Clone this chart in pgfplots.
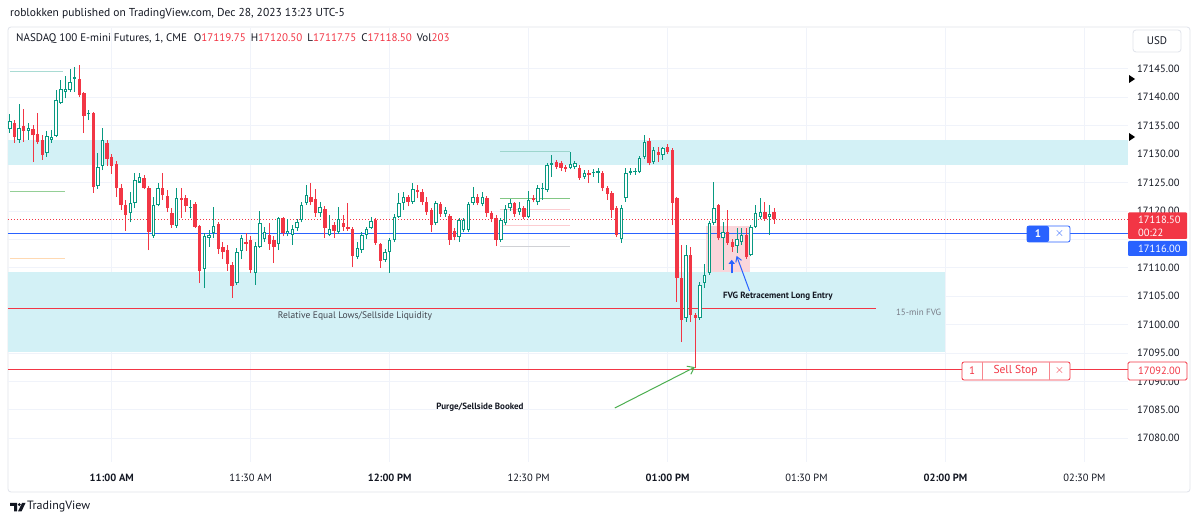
\documentclass[border=0pt]{standalone}
\usepackage{pgfplots}
\pgfplotsset{compat=1.18}
\usepackage{pgfplotstable}
\usepackage{fontspec}
\setmainfont{PT Sans}
\usetikzlibrary{arrows.meta}
\definecolor{tvgreen}{HTML}{089981}
\definecolor{tvred}{HTML}{F23645}
\definecolor{tvblue}{HTML}{2962FF}
\definecolor{bandc}{HTML}{D3F1F6}
\definecolor{pinkc}{HTML}{FAD6DB}
\definecolor{gridc}{HTML}{F0F3FA}
\definecolor{txt}{HTML}{131722}
\definecolor{gtxt}{HTML}{787B86}
\definecolor{borderc}{HTML}{E0E3EB}
\definecolor{arrowgreen}{HTML}{4CAF50}

\pgfplotstableread{
t o h l c
-22 17134.5 17137.0 17133.8 17135.8
-20 17132.5 17138.8 17132.0 17134.6
-18 17134.1 17135.5 17132.5 17134.6
-14 17130.2 17134.0 17129.5 17133.2
-13 17132.5 17134.3 17132.0 17133.0
-12 17133.2 17141.3 17133.0 17139.5
-11 17139.0 17143.1 17138.8 17141.5
-10 17141.0 17143.7 17139.8 17141.5
-9 17141.3 17145.0 17141.0 17142.7
-8 17143.2 17145.4 17141.0 17143.5
-5 17137.0 17137.8 17136.0 17137.3
-3 17124.4 17130.2 17123.9 17127.7
-2 17127.9 17134.6 17127.2 17132.5
4 17119.6 17123.3 17118.0 17121.4
5 17121.4 17126.7 17120.5 17125.5
6 17125.0 17126.7 17124.9 17126.0
9 17115.6 17122.5 17115.3 17121.0
10 17121.0 17125.0 17120.8 17124.0
14 17117.4 17124.0 17117.0 17122.3
17 17120.5 17121.9 17118.8 17120.7
20 17109.8 17116.1 17106.4 17115.6
21 17115.2 17116.7 17113.7 17115.8
22 17116.1 17120.7 17115.2 17117.4
27 17107.3 17113.5 17107.0 17112.8
28 17113.0 17115.7 17111.5 17115.2
31 17109.1 17114.5 17107.0 17113.8
32 17113.7 17120.0 17113.5 17117.9
33 17115.0 17117.2 17114.5 17116.3
36 17114.1 17118.9 17113.1 17118.8
38 17116.1 17118.6 17115.5 17116.5
39 17115.8 17117.5 17114.0 17116.8
40 17117.0 17118.5 17116.5 17118.1
41 17118.4 17121.5 17118.0 17121.0
42 17121.4 17124.6 17121.0 17122.8
45 17119.6 17121.5 17119.0 17120.7
47 17115.8 17119.3 17115.5 17116.8
49 17116.3 17120.7 17116.0 17118.6
53 17111.9 17114.5 17111.5 17113.5
54 17113.1 17116.3 17112.6 17115.8
55 17115.8 17117.2 17115.0 17116.8
56 17117.0 17118.9 17116.8 17118.2
59 17111.4 17113.3 17111.0 17112.8
60 17112.8 17115.2 17109.1 17114.9
61 17114.9 17119.5 17114.5 17119.0
62 17119.0 17123.2 17118.8 17121.4
63 17121.4 17123.3 17120.2 17122.5
65 17121.6 17124.9 17121.3 17123.9
70 17117.9 17121.8 17117.5 17121.4
72 17119.5 17120.7 17119.0 17120.2
75 17115.4 17118.8 17114.5 17118.4
76 17116.7 17118.8 17116.3 17118.4
77 17116.7 17121.5 17116.3 17121.2
78 17121.4 17124.2 17121.0 17122.5
80 17121.2 17123.3 17120.8 17122.5
84 17114.9 17118.8 17114.5 17118.4
85 17117.9 17121.0 17117.5 17120.4
86 17120.5 17122.1 17120.0 17121.4
88 17119.8 17121.5 17119.3 17120.5
90 17119.0 17123.5 17118.8 17121.9
92 17121.6 17124.5 17121.0 17124.0
93 17123.8 17125.0 17122.0 17124.0
94 17123.7 17128.5 17123.3 17128.1
95 17128.1 17129.9 17126.0 17128.4
99 17127.6 17130.4 17127.3 17128.3
100 17127.7 17128.8 17127.3 17128.4
102 17126.0 17127.2 17125.7 17126.7
104 17126.6 17127.3 17126.0 17126.9
105 17126.7 17127.5 17125.0 17127.0
110 17115.0 17121.0 17114.4 17120.5
111 17122.3 17127.6 17121.6 17126.7
112 17126.7 17127.6 17126.3 17127.0
113 17126.8 17127.6 17126.4 17127.1
114 17126.9 17129.6 17126.6 17129.3
115 17129.5 17133.4 17129.2 17132.2
117 17128.6 17131.2 17128.2 17130.7
119 17129.9 17131.3 17129.0 17131.1
124 17101.2 17114.0 17100.5 17112.3
127 17101.2 17107.5 17100.8 17107.0
128 17107.3 17110.6 17106.5 17108.7
129 17109.1 17118.3 17108.8 17117.9
130 17117.9 17125.1 17117.5 17120.5
132 17115.2 17118.0 17109.6 17116.3
135 17113.8 17117.0 17112.6 17115.1
136 17114.5 17117.0 17114.0 17115.8
138 17112.3 17117.6 17112.0 17117.2
139 17117.2 17121.0 17117.0 17119.6
140 17118.9 17122.3 17118.5 17119.8
142 17118.9 17121.0 17115.8 17119.5
}\greentab

\pgfplotstableread{
t o h l c
-21 17135.5 17136.0 17132.0 17133.0
-19 17135.0 17138.0 17132.2 17134.1
-17 17134.4 17135.1 17128.6 17133.3
-16 17133.6 17137.3 17131.8 17132.2
-15 17132.5 17133.4 17129.0 17129.9
-7 17143.3 17145.6 17140.0 17140.4
-6 17140.8 17141.0 17133.7 17136.7
-4 17137.3 17137.5 17123.2 17124.2
-1 17132.0 17132.5 17127.9 17129.2
0 17129.5 17130.0 17126.5 17127.9
1 17128.3 17128.8 17122.5 17124.0
2 17124.0 17124.8 17120.2 17121.0
3 17121.0 17122.0 17116.5 17119.3
7 17125.8 17126.3 17123.8 17124.0
8 17124.0 17124.3 17113.1 17116.3
11 17124.0 17126.7 17122.0 17122.8
12 17122.6 17123.7 17119.8 17120.5
13 17119.6 17120.5 17117.0 17117.5
15 17122.3 17124.0 17118.8 17121.9
16 17122.3 17122.8 17119.8 17120.9
18 17121.2 17121.5 17117.0 17117.2
19 17117.4 17117.6 17107.3 17109.4
23 17117.7 17118.0 17112.5 17113.3
24 17113.7 17114.5 17111.5 17112.8
25 17113.1 17114.0 17109.5 17110.7
26 17110.5 17111.0 17104.7 17106.8
29 17114.5 17116.1 17113.0 17114.2
30 17114.9 17115.5 17109.0 17109.6
34 17115.8 17117.9 17113.2 17114.2
35 17114.9 17115.5 17110.8 17113.7
37 17118.8 17119.0 17115.5 17116.1
43 17122.5 17124.9 17121.0 17121.6
44 17122.1 17123.9 17119.0 17119.6
46 17120.4 17120.8 17115.2 17117.0
48 17117.5 17118.0 17115.2 17116.5
50 17117.9 17119.3 17116.5 17117.2
51 17117.2 17121.4 17116.5 17116.9
52 17116.8 17117.2 17110.1 17112.1
57 17118.4 17118.8 17114.0 17114.4
58 17114.2 17114.4 17110.0 17111.2
64 17122.5 17122.8 17120.8 17121.6
66 17123.7 17124.6 17122.2 17123.4
67 17123.3 17123.8 17121.0 17121.6
68 17121.6 17122.5 17119.3 17119.8
69 17120.2 17120.5 17116.3 17117.5
71 17121.2 17121.5 17119.0 17119.5
73 17119.1 17119.5 17114.0 17114.9
74 17116.5 17117.0 17114.8 17115.4
79 17122.5 17123.0 17121.0 17121.4
81 17122.3 17122.6 17119.0 17119.6
82 17119.6 17120.0 17118.0 17118.6
83 17118.8 17119.2 17113.8 17114.9
87 17121.4 17121.6 17119.0 17119.5
89 17120.5 17120.8 17118.5 17119.0
91 17122.2 17122.8 17121.5 17121.9
96 17128.6 17129.0 17127.3 17127.7
97 17128.4 17128.8 17127.0 17127.6
98 17127.8 17128.0 17126.9 17127.3
101 17127.6 17128.0 17125.5 17125.8
103 17126.7 17127.2 17124.9 17126.3
106 17126.7 17127.0 17123.5 17124.0
107 17124.0 17124.3 17122.0 17123.0
108 17123.2 17123.5 17118.8 17120.2
109 17120.5 17120.8 17115.4 17115.8
116 17132.3 17132.8 17128.0 17128.4
118 17130.3 17131.3 17128.6 17129.8
120 17131.3 17131.7 17130.0 17130.4
121 17130.7 17131.0 17117.5 17121.4
122 17122.3 17122.5 17104.0 17108.2
123 17108.2 17114.0 17096.9 17100.8
125 17112.3 17113.7 17100.5 17101.7
126 17101.7 17102.0 17092.3 17101.2
131 17121.0 17121.3 17114.8 17115.2
133 17116.3 17120.2 17114.0 17114.4
134 17114.5 17115.0 17112.8 17113.7
137 17115.8 17117.0 17111.5 17111.9
141 17119.8 17121.6 17118.3 17118.6
143 17119.75 17120.5 17117.75 17118.5
}\redtab

\begin{document}
\begin{tikzpicture}
\fill[white] (0pt,0pt) rectangle (1200pt,522pt);
\path[use as bounding box] (0pt,0pt) rectangle (1200pt,522pt);
\draw[borderc, line width=0.8pt, rounded corners=3pt] (8pt,30pt) rectangle (1190pt,495pt);
\begin{axis}[
  at={(8pt,60pt)}, anchor=south west, scale only axis,
  width=1120pt, height=434pt,
  xmin=-22.4, xmax=219.4, ymin=17075.8, ymax=17152.2,
  clip=false,
  axis line style={draw=none}, major tick length=0pt,
  xtick={0,30,60,90,120,150,180,210},
  xticklabels={\mbox{\bfseries 11:00 AM},\mbox{11:30 AM},\mbox{\bfseries 12:00 PM},\mbox{12:30 PM},\mbox{\bfseries 01:00 PM},\mbox{01:30 PM},\mbox{\bfseries 02:00 PM},\mbox{02:30 PM}},
  ytick={17080,17085,17090,17095,17100,17105,17110,17115,17120,17125,17130,17135,17140,17145},
  yticklabels={\mbox{17080.00},\mbox{17085.00},\mbox{17090.00},\mbox{17095.00},\mbox{17100.00},\mbox{17105.00},\mbox{17110.00},{},\mbox{17120.00},\mbox{17125.00},\mbox{17130.00},\mbox{17135.00},\mbox{17140.00},\mbox{17145.00}},
  yticklabel pos=right,
  scaled y ticks=false,
  /pgf/number format/assume math mode=true,
  yticklabel style={anchor=west, inner sep=0pt, xshift=9pt},
  xticklabel style={anchor=base, yshift=-20pt},
  tick label style={font=\fontsize{10.5}{12}\selectfont, text=txt},
  grid=major, major grid style={draw=gridc, line width=0.8pt},
]
% bands
\addplot[fill=bandc, draw=none, forget plot] coordinates {(-22.4,17128.1) (219.4,17128.1) (219.4,17132.4) (-22.4,17132.4)} -- cycle;
\addplot[fill=bandc, draw=none, forget plot] coordinates {(-22.4,17095.2) (180,17095.2) (180,17109.3) (-22.4,17109.3)} -- cycle;
\addplot[fill=pinkc, draw=none, forget plot] coordinates {(128.2,17109.3) (137.7,17109.3) (137.7,17117.4) (128.2,17117.4)} -- cycle;
% short reference lines
\addplot[color=tvgreen!35, line width=1pt, mark=none] coordinates {(-22,17144.5) (-10.6,17144.5)};
\addplot[color=arrowgreen!60, line width=1pt, mark=none] coordinates {(-22,17123.5) (-10.1,17123.5)};
\addplot[color=orange!30, line width=1pt, mark=none] coordinates {(-22,17111.6) (-10.1,17111.6)};
\addplot[color=tvgreen!40, line width=1pt, mark=none] coordinates {(83.8,17130.4) (98.9,17130.4)};
\addplot[color=arrowgreen!70, line width=1pt, mark=none] coordinates {(83.8,17122.1) (98.9,17122.1)};
\addplot[color=tvred!25, line width=1pt, mark=none] coordinates {(83.8,17120.2) (98.9,17120.2)};
\addplot[color=tvred!25, line width=1pt, mark=none] coordinates {(83.8,17117.4) (98.9,17117.4)};
\addplot[color=gtxt!35, line width=1pt, mark=none] coordinates {(83.8,17113.7) (98.9,17113.7)};
% main horizontal lines
\addplot[color=tvred, line width=1pt, mark=none] coordinates {(-22.4,17102.75) (164.9,17102.75)};
\addplot[color=tvred, line width=1pt, mark=none] coordinates {(-22.4,17092) (219.4,17092)};
\addplot[color=tvblue, line width=1.1pt, mark=none] coordinates {(-22.4,17116) (219.4,17116)};
\addplot[color=tvred, line width=1.1pt, mark=none, dash pattern=on 1.1pt off 1.9pt] coordinates {(-22.4,17118.5) (219.4,17118.5)};
% candles: wicks
\addplot[forget plot, draw=none, mark=none, error bars/.cd, y dir=plus, y explicit, error mark=none, error bar style={draw=tvgreen, line width=1pt, solid}] table[x=t, y=l, y error expr=\thisrow{h}-\thisrow{l}] {\greentab};
\addplot[forget plot, draw=none, mark=none, error bars/.cd, y dir=plus, y explicit, error mark=none, error bar style={draw=tvred, line width=1pt, solid}] table[x=t, y=l, y error expr=\thisrow{h}-\thisrow{l}] {\redtab};
% bodies
\addplot[forget plot, draw=none, mark=none, error bars/.cd, y dir=plus, y explicit, error mark=none, error bar style={draw=tvgreen, line width=3.4pt, solid}] table[x=t, y=o, y error expr=\thisrow{c}-\thisrow{o}] {\greentab};
\addplot[forget plot, draw=none, mark=none, error bars/.cd, y dir=plus, y explicit, error mark=none, error bar style={draw=white, line width=1.4pt, solid}] table[x=t, y expr=\thisrow{o}+0.18, y error expr={max(\thisrow{c}-\thisrow{o}-0.36,0)}] {\greentab};
\addplot[forget plot, draw=none, mark=none, error bars/.cd, y dir=plus, y explicit, error mark=none, error bar style={draw=tvred, line width=3.4pt, solid}] table[x=t, y=c, y error expr=\thisrow{o}-\thisrow{c}] {\redtab};
% annotations
\node[font=\fontsize{9.5}{11}\selectfont, text=txt!80] at (axis cs:52.5,17101.5) {Relative Equal Lows/Sellside Liquidity};
\node[font=\fontsize{9}{11}\selectfont, text=gtxt] at (axis cs:174.2,17102.2) {15-min FVG};
\node[font=\fontsize{9}{11}\selectfont\bfseries, text=txt] at (axis cs:143.8,17105.0) {FVG Retracement Long Entry};
\node[font=\fontsize{9}{11}\selectfont\bfseries, text=txt] at (axis cs:79.5,17085.5) {Purge/Sellside Booked};
\draw[arrowgreen, line width=1pt, -{Straight Barb[length=6pt, width=9pt]}] (axis cs:108.6,17085.3) -- (axis cs:125.9,17092.5);
\draw[tvblue, line width=1pt, -{Straight Barb[length=5pt, width=6pt]}] (axis cs:137.7,17105.9) -- (axis cs:134.9,17112.1);
\draw[tvblue, line width=2pt, -{Triangle[length=4pt, width=6pt]}] (axis cs:133.85,17109.0) -- (axis cs:133.85,17111.4);
\end{axis}
% header
\node[anchor=west, font=\fontsize{11.5}{13}\selectfont, text=txt, inner sep=0pt] at (10pt,508pt) {roblokken published on TradingView.com, Dec 28, 2023 13:23 UTC-5};
\node[anchor=west, font=\fontsize{11}{13}\selectfont, text=txt, inner sep=0pt] at (16pt,483pt) {NASDAQ 100 E-mini Futures, 1, CME\hspace{7pt}O\textcolor{tvred}{17119.75}\hspace{5pt}H\textcolor{tvred}{17120.50}\hspace{5pt}L\textcolor{tvred}{17117.75}\hspace{5pt}C\textcolor{tvred}{17118.50}\hspace{5pt}Vol\textcolor{tvred}{203}};
% USD box
\draw[borderc, line width=0.8pt, rounded corners=3pt] (1133pt,470pt) rectangle (1181pt,492pt);
\node[font=\fontsize{11}{13}\selectfont, text=txt] at (1157pt,481pt) {USD};
% triangles
\fill[black] (1129pt,447pt) -- (1135pt,443pt) -- (1129pt,439pt) -- cycle;
\fill[black] (1129pt,389pt) -- (1135pt,385pt) -- (1129pt,381pt) -- cycle;
% price tags
\fill[tvred, rounded corners=1pt] (1128pt,283pt) rectangle (1187pt,309.5pt);
\node[anchor=west, inner sep=0pt, font=\fontsize{10.5}{12}\selectfont, text=white] at (1138pt,302pt) {17118.50};
\node[anchor=west, inner sep=0pt, font=\fontsize{10.5}{12}\selectfont, text=white] at (1138pt,289pt) {00:22};
\fill[tvblue, rounded corners=1pt] (1128pt,266pt) rectangle (1187pt,281pt);
\node[anchor=west, inner sep=0pt, font=\fontsize{10.5}{12}\selectfont, text=white] at (1138pt,273.5pt) {17116.00};
\filldraw[fill=white, draw=tvred, line width=0.8pt, rounded corners=1.5pt] (1128pt,142pt) rectangle (1187pt,160pt);
\node[anchor=west, inner sep=0pt, font=\fontsize{10.5}{12}\selectfont, text=tvred] at (1138pt,151pt) {17092.00};
% order boxes
\filldraw[fill=white, draw=tvblue, line width=0.8pt, rounded corners=2pt] (1027pt,280pt) rectangle (1070pt,296pt);
\fill[tvblue, rounded corners=2pt] (1027pt,280pt) rectangle (1049pt,296pt);
\node[font=\fontsize{11}{13}\selectfont\bfseries, text=white] at (1038pt,288pt) {1};
\node[font=\fontsize{12}{13}\selectfont, text=tvblue] at (1059.5pt,288pt) {$\times$};
\filldraw[fill=white, draw=tvred, line width=0.8pt, rounded corners=2pt] (962pt,142pt) rectangle (1070pt,160pt);
\draw[tvred!60, line width=0.6pt] (982pt,142pt) -- (982pt,160pt);
\draw[tvred!60, line width=0.6pt] (1049pt,142pt) -- (1049pt,160pt);
\node[font=\fontsize{11}{13}\selectfont, text=tvred] at (972pt,151pt) {1};
\node[font=\fontsize{11.5}{13}\selectfont, text=tvred] at (1015.5pt,151pt) {Sell Stop};
\node[font=\fontsize{12}{13}\selectfont, text=tvred] at (1059.5pt,151pt) {$\times$};
% logo
\fill[txt] (10pt,19pt) -- (17pt,19pt) -- (17pt,10.5pt) -- (14pt,10.5pt) -- (14pt,16pt) -- (10pt,16pt) -- cycle;
\fill[txt] (19.3pt,17.4pt) circle (1.6pt);
\fill[txt] (22pt,19pt) -- (25.5pt,19pt) -- (21.5pt,10.5pt) -- (18pt,10.5pt) -- cycle;
\node[anchor=west, inner sep=0pt, font=\fontsize{12}{14}\selectfont, text=txt] at (27pt,15pt) {TradingView};
\end{tikzpicture}
\end{document}
